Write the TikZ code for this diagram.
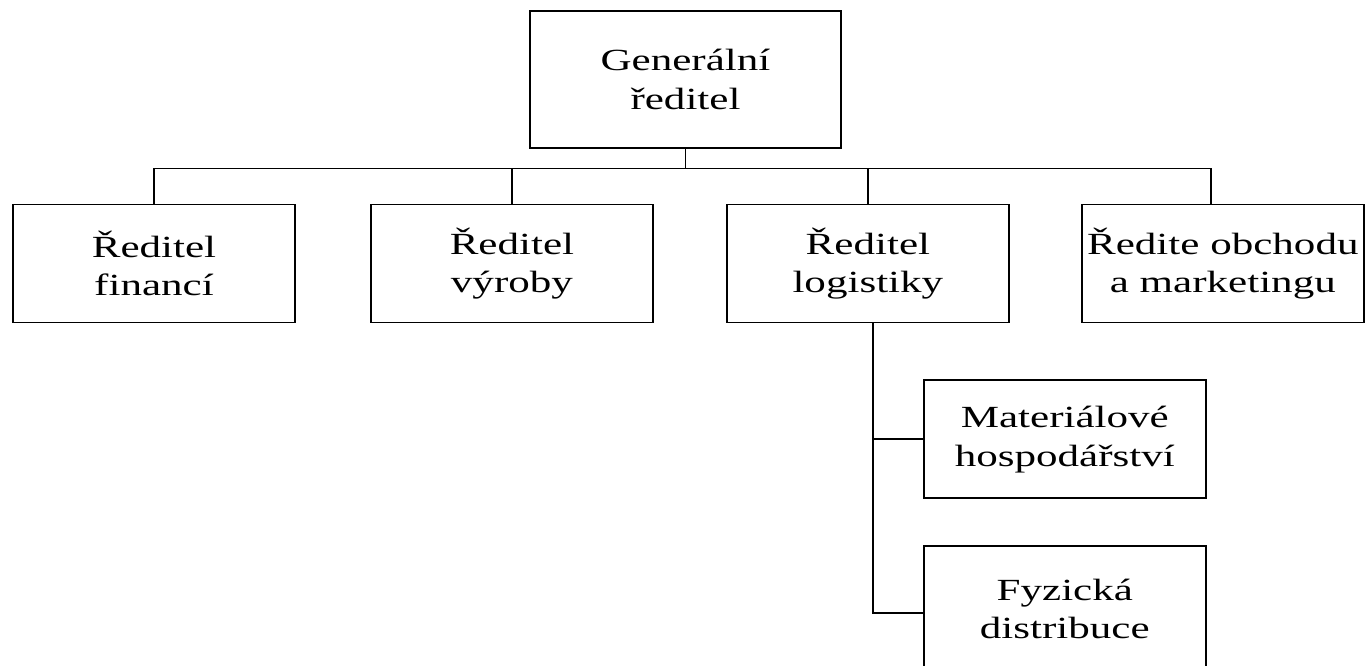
\documentclass[tikz,border=0pt]{standalone}
\usepackage{fontspec}
\setmainfont[FakeStretch=1.4]{Liberation Serif}
\usepackage{tikz}
\usetikzlibrary{positioning,calc}

\tikzset{
  orgbox/.style={draw,rectangle,line width=1.1pt,align=center,inner xsep=2pt,
    minimum width=5.64cm,minimum height=2.36cm,
    font=\fontsize{17.5pt}{22pt}\selectfont},
  link/.style={line width=1.1pt}
}

\begin{document}
\begin{tikzpicture}
\useasboundingbox (0,0) rectangle (27.34,-13.30);
% the boxes
\node[orgbox,minimum width=6.22cm,minimum height=2.74cm] (gr) at (13.71,-1.59) {Generální\\ředitel};
\node[orgbox] (fin) at (3.08,-5.27) {Ředitel\\financí};
\node[orgbox] (vyr) [right=1.48cm of fin] {Ředitel\\výroby};
\node[orgbox] (log) [right=1.44cm of vyr] {Ředitel\\logistiky};
\node[orgbox] (obch) [right=1.42cm of log] {Ředite obchodu\\a marketingu};
\node[orgbox] (mat) [below right=1.12cm and -1.74cm of log] {Materiálové\\hospodářství};
\node[orgbox,minimum height=2.5cm] (fyz) [below=0.92cm of mat] {Fyzická\\distribuce};
% the connecting lines
\coordinate (bus) at ($(gr.south)+(0,-0.39)$);
\coordinate (drop) at ($(obch.north)+(-0.23,0)$);
\coordinate (spine) at ($(log.south)+(0.1,0)$);
\draw[link] (gr.south) -- (bus);
\draw[link] (fin.north) |- (bus) -| (drop);
\draw[link] (vyr.north) -- (vyr.north |- bus);
\draw[link] (log.north) -- (log.north |- bus);
\draw[link] (spine) |- (mat.west);
\draw[link] (spine) |- ($(fyz.west)+(0,-0.09)$);
\end{tikzpicture}
\end{document}
